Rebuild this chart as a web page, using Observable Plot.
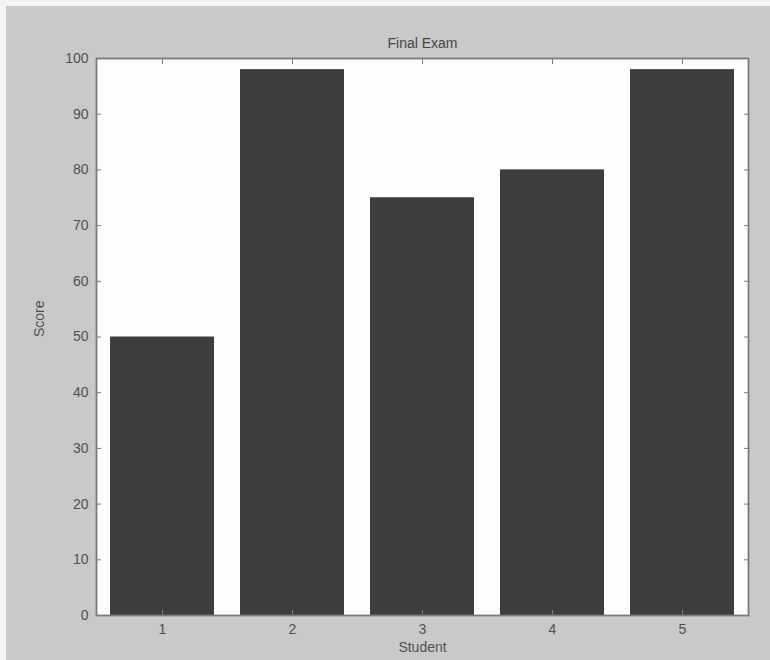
<!DOCTYPE html>
<html>
<head>
<meta charset="utf-8">
<script src="https://cdn.jsdelivr.net/npm/d3@7"></script>
<script src="https://cdn.jsdelivr.net/npm/@observablehq/plot@0.6"></script>
<style>
  html, body { margin: 0; padding: 0; background: #ffffff; }
  #chart svg { display: block; background: #c9c9c9; box-shadow: inset 6px 6px 0 #f4f4f4; }
</style>
</head>
<body>
<div id="chart"></div>
<script>
const students = [1, 2, 3, 4, 5];
const scores = [50, 98, 75, 80, 98];
const yTicks = [0, 10, 20, 30, 40, 50, 60, 70, 80, 90, 100];
const titleText = "Final Exam";
const xLabel = "Student";
const yLabel = "Score";

const data = students.map((s, i) => ({student: s, score: scores[i]}));

const font = "'Liberation Sans', Arial, sans-serif";
const textColor = "#505050";
const axisColor = "#7a7a7a";

const chart = Plot.plot({
  width: 770,
  height: 660,
  marginLeft: 96,
  marginRight: 22,
  marginTop: 58,
  marginBottom: 45,
  style: {fontFamily: font, fontSize: "14px", color: textColor, background: "#c9c9c9"},
  x: {type: "band", domain: students, paddingInner: 0.2, paddingOuter: 0.1, label: null},
  y: {domain: [0, 100], label: null},
  marks: [
    Plot.frame({fill: "#fdfdfd", stroke: null}),
    Plot.barY(data, {x: "student", y: "score", fill: "#3d3d3f"}),
    Plot.axisY({anchor: "left", ticks: yTicks, tickSize: -5, tickPadding: 13, stroke: axisColor, fill: textColor, label: null}),
    Plot.axisY({anchor: "right", ticks: yTicks, tickSize: -5, tickFormat: () => "", stroke: axisColor, label: null}),
    Plot.axisX({anchor: "bottom", ticks: students, tickSize: -5, tickPadding: 14, stroke: axisColor, fill: textColor, label: null}),
    Plot.axisX({anchor: "top", ticks: students, tickSize: -5, tickFormat: () => "", stroke: axisColor, label: null}),
    Plot.frame({stroke: axisColor, strokeWidth: 1.8}),
    Plot.text([titleText], {frameAnchor: "top", dy: -20, fill: "#454545", fontSize: 14}),
    Plot.text([xLabel], {frameAnchor: "bottom", dy: 36, fill: textColor, fontSize: 14}),
    Plot.text([yLabel], {frameAnchor: "left", dx: -57, rotate: -90, fill: textColor, fontSize: 14})
  ]
});
document.getElementById("chart").append(chart);
</script>
</body>
</html>
